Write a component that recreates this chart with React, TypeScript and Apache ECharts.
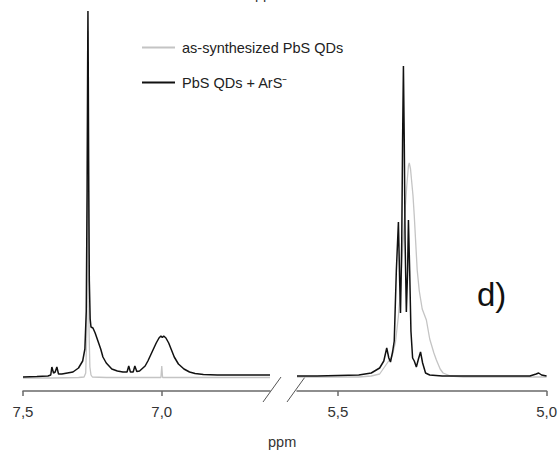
import React, { useEffect, useRef } from "react";
import * as echarts from "echarts";

// ppm tick values for the two axis segments
const leftTicks = [7.5, 7.0];
const rightTicks = [5.5, 5.0];

// left segment (7.5 -> 6.61 ppm), as-synthesized (grey)
const greyLeftPpm = [7.5, 7.4, 7.3, 7.28, 7.274, 7.27, 7.268, 7.266, 7.264, 7.262, 7.259, 7.255, 7.25, 7.2, 7.1, 7.003, 7.0, 6.997, 6.9, 6.8, 6.61];
const greyLeftInt = [13, 13, 13.5, 14, 18, 60, 200, 360, 200, 60, 24, 16, 14, 13.5, 13.5, 13.5, 25, 13.5, 13.5, 13.5, 13.5];

// left segment, PbS QDs + ArS- (black)
const blackLeftPpm = [7.5, 7.45, 7.41, 7.40, 7.396, 7.39, 7.384, 7.378, 7.372, 7.36, 7.34, 7.32, 7.3, 7.285, 7.277, 7.272, 7.269, 7.267, 7.266, 7.265, 7.263, 7.261, 7.258, 7.255, 7.248, 7.24, 7.23, 7.22, 7.212, 7.2, 7.18, 7.16, 7.14, 7.125, 7.119, 7.113, 7.103, 7.097, 7.09, 7.08, 7.06, 7.05, 7.04, 7.03, 7.02, 7.01, 7.003, 6.998, 6.993, 6.985, 6.975, 6.965, 6.955, 6.94, 6.92, 6.9, 6.88, 6.85, 6.8, 6.7, 6.61];
const blackLeftInt = [14, 14.5, 15, 16, 24, 18, 19, 24, 17, 17, 18, 19, 23, 30, 42, 80, 200, 330, 380, 330, 200, 110, 72, 64, 63, 58, 50, 42, 34, 28, 22, 20, 19, 19, 25, 19, 19, 25, 19.5, 20, 25, 30, 36, 42, 48, 53, 55, 53.5, 55, 53, 48, 41, 34, 27, 22, 19, 17.5, 16.5, 16, 16, 16];

// right segment (5.6 -> 5.0 ppm), as-synthesized (grey)
const greyRightPpm = [5.598, 5.5, 5.45, 5.42, 5.4, 5.385, 5.37, 5.362, 5.355, 5.35, 5.345, 5.34, 5.335, 5.331, 5.329, 5.326, 5.32, 5.317, 5.31, 5.305, 5.298, 5.288, 5.28, 5.27, 5.264, 5.255, 5.248, 5.23, 5.2, 5.1, 5.0];
const greyRightInt = [14, 14, 14, 15, 17, 26, 35, 49, 75, 100, 140, 175, 205, 225, 228, 222, 195, 175, 121, 100, 82, 71, 52, 38, 31, 22, 18, 15, 14, 14, 14];

// right segment, PbS QDs + ArS- (black)
const blackRightPpm = [5.598, 5.55, 5.5, 5.45, 5.42, 5.4, 5.39, 5.383, 5.378, 5.374, 5.369, 5.365, 5.36, 5.355, 5.352, 5.35, 5.347, 5.345, 5.343, 5.341, 5.339, 5.336, 5.333, 5.331, 5.328, 5.325, 5.321, 5.317, 5.312, 5.307, 5.302, 5.297, 5.29, 5.28, 5.25, 5.1, 5.04, 5.025, 5.019, 5.012, 5.0];
const blackRightInt = [15, 15, 15.5, 16, 18, 23, 30, 43, 33, 29, 39, 50, 120, 169, 110, 78, 150, 250, 325, 250, 150, 79, 120, 171, 120, 60, 33, 30, 24, 32, 39, 28, 18, 16, 15, 15, 15, 17, 18, 16, 15];

const zip = (xs: number[], ys: number[]) => xs.map((x, i) => [x, ys[i]]);

const GREY = "#c4c4c4";
const BLACK = "#111111";
const FONT = "'Liberation Sans', Arial, Helvetica, sans-serif";

export default function App() {
  const ref = useRef<HTMLDivElement>(null);
  useEffect(() => {
    if (!ref.current) return;
    const chart = echarts.init(ref.current, undefined, { renderer: "svg" });
    const axisCommon = (ticks: number[]) => ({
      type: "value" as const,
      inverse: true,
      axisLine: { show: true, lineStyle: { color: "#6a6a6a", width: 1.5 } },
      axisTick: { show: true, length: 5, customValues: ticks, lineStyle: { color: "#6a6a6a", width: 1.5 } },
      axisLabel: {
        customValues: ticks,
        margin: 13,
        fontSize: 15,
        fontFamily: FONT,
        color: "#333",
        formatter: (v: number) => v.toFixed(1).replace(".", ","),
      },
      splitLine: { show: false },
    });
    chart.setOption({
      animation: false,
      backgroundColor: "#ffffff",
      grid: [
        { left: 23, width: 247, top: 10, bottom: 63 },
        { left: 297, width: 251, top: 10, bottom: 63 },
      ],
      xAxis: [
        { ...axisCommon(leftTicks), gridIndex: 0, min: 6.61, max: 7.5 },
        { ...axisCommon(rightTicks), gridIndex: 1, min: 5.0, max: 5.598 },
      ],
      yAxis: [
        { type: "value", gridIndex: 0, min: 0, max: 381, show: false },
        { type: "value", gridIndex: 1, min: 0, max: 381, show: false },
      ],
      legend: {
        orient: "vertical",
        left: 137,
        top: 34,
        itemWidth: 33,
        itemHeight: 2,
        itemGap: 18,
        icon: "rect",
        data: ["as-synthesized PbS QDs", "PbS QDs + ArS⁻"],
        textStyle: { fontSize: 14.5, fontFamily: FONT, color: "#222", lineHeight: 17, padding: [0, 0, 0, 2] },
      },
      series: [
        {
          name: "as-synthesized PbS QDs", type: "line", xAxisIndex: 0, yAxisIndex: 0,
          data: zip(greyLeftPpm, greyLeftInt), showSymbol: false, symbol: "none",
          lineStyle: { color: GREY, width: 1.3 }, itemStyle: { color: GREY },
        },
        {
          name: "as-synthesized PbS QDs", type: "line", xAxisIndex: 1, yAxisIndex: 1,
          data: zip(greyRightPpm, greyRightInt), showSymbol: false, symbol: "none",
          lineStyle: { color: GREY, width: 1.3 }, itemStyle: { color: GREY },
        },
        {
          name: "PbS QDs + ArS⁻", type: "line", xAxisIndex: 0, yAxisIndex: 0,
          data: zip(blackLeftPpm, blackLeftInt), showSymbol: false, symbol: "none",
          lineStyle: { color: BLACK, width: 1.5 }, itemStyle: { color: BLACK },
        },
        {
          name: "PbS QDs + ArS⁻", type: "line", xAxisIndex: 1, yAxisIndex: 1,
          data: zip(blackRightPpm, blackRightInt), showSymbol: false, symbol: "none",
          lineStyle: { color: BLACK, width: 1.5 }, itemStyle: { color: BLACK },
        },
      ],
      graphic: [
        { type: "line", shape: { x1: 263, y1: 402, x2: 281, y2: 377 }, style: { stroke: "#555", lineWidth: 1 } },
        { type: "line", shape: { x1: 287, y1: 402, x2: 305, y2: 377 }, style: { stroke: "#555", lineWidth: 1 } },
        { type: "text", left: 268, top: 434, style: { text: "ppm", fontSize: 14.5, fontFamily: FONT, fill: "#333" } },
        { type: "text", left: 255, top: -14, style: { text: "ppm", fontSize: 14.5, fontFamily: FONT, fill: "#333" } },
        { type: "text", left: 477, top: 278, style: { text: "d)", fontSize: 33, fontFamily: FONT, fill: "#111" } },
      ],
    });
    return () => chart.dispose();
  }, []);
  return <div ref={ref} style={{ position: "fixed", left: 0, top: 0, width: 560, height: 454 }} />;
}
